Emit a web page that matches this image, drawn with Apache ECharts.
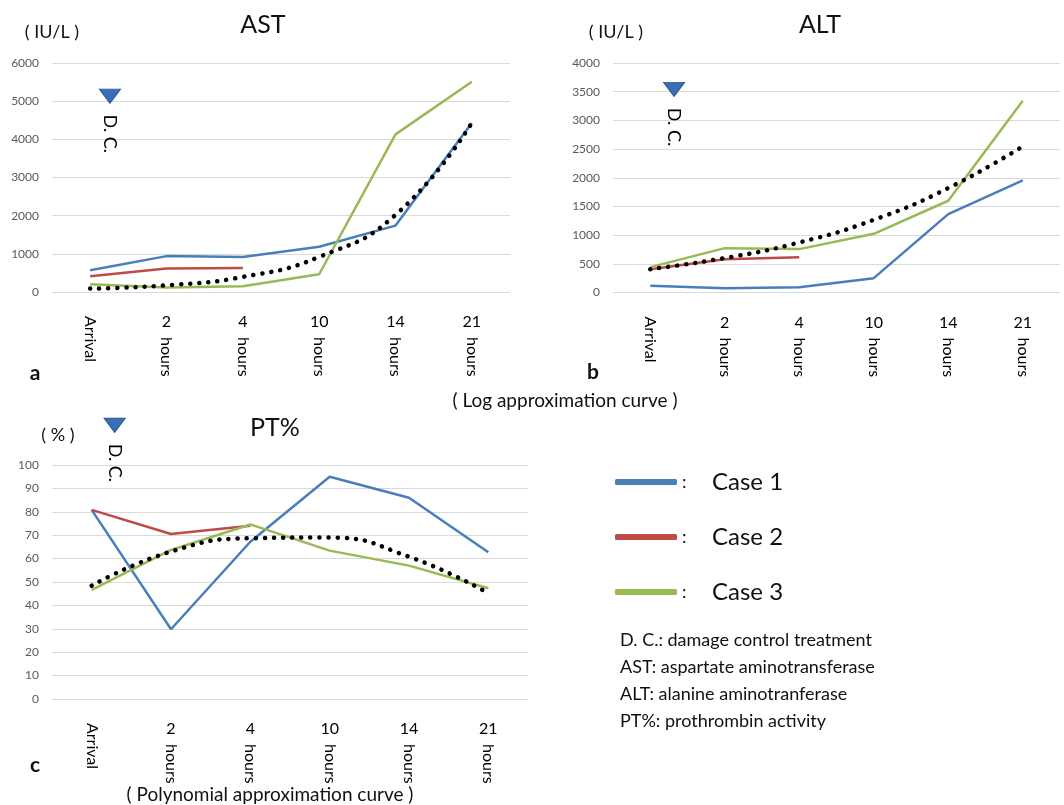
<!DOCTYPE html>
<html>
<head>
<meta charset="utf-8">
<script src="https://cdn.jsdelivr.net/npm/echarts@6/dist/echarts.min.js"></script>
<style>
html,body{margin:0;padding:0;background:#fff;}
#chart{width:1064px;height:805px;}
</style>
</head>
<body>
<div id="chart"></div>
<script>
// ---- data ----
const categories = ['Arrival', '2 hours', '4 hours', '10 hours', '14 hours', '21 hours'];

const astCase1 = [570, 940, 920, 1185, 1740, 4430];
const astCase2 = [410, 615, 632];
const astCase3 = [200, 115, 150, 465, 4130, 5510];
const astTrend = [90, 175, 395, 920, 2020, 4430];

const altCase1 = [116, 76, 93, 250, 1366, 1953];
const altCase2 = [407, 581, 616];
const altCase3 = [442, 773, 756, 1023, 1599, 3343];
const altTrend = [407, 600, 872, 1267, 1820, 2547];

const ptCase1 = [80.8, 29.8, 67.2, 95, 86, 62.7];
const ptCase2 = [80.8, 70.5, 74];
const ptCase3 = [46.6, 63.7, 74.6, 63.4, 57, 47.3];
const ptTrend = [48.4, 63, 68.7, 69, 60.8, 45.2];

// D.C. (damage control) marker: fractional category position and value
const dcIndex = [0.26, 0.32, 0.29];
const dcValue = [5130, 3540, 117];

const yMax = [6000, 4000, 100];
const yInterval = [1000, 500, 10];
const panelTitles = ['AST', 'ALT', 'PT%'];
const seriesNames = ['Case 1', 'Case 2', 'Case 3'];
const notes = [
  'D. C.: damage control treatment',
  'AST: aspartate aminotransferase',
  'ALT: alanine aminotranferase',
  'PT%: prothrombin activity'
];

// ---- styling ----
const FONT = 'Lato';
const colors = ['#4a7ebb', '#be4b48', '#98b954'];
const panelData = [
  [astCase1, astCase2, astCase3, astTrend],
  [altCase1, altCase2, altCase3, altTrend],
  [ptCase1, ptCase2, ptCase3, ptTrend]
];

const grids = [
  {left: 52, top: 63, width: 458, height: 229, outerBoundsMode: 'none'},
  {left: 613, top: 63, width: 447, height: 229.5, outerBoundsMode: 'none'},
  {left: 52, top: 465, width: 476, height: 234, outerBoundsMode: 'none'}
];

const labelBase = {interval: 0, fontSize: 16, color: '#000', fontFamily: FONT};
function catAxes(g) {
  const base = {type: 'category', gridIndex: g, data: categories, position: 'bottom', boundaryGap: true,
    axisLine: {show: false}, axisTick: {show: false}, splitLine: {show: false}};
  return [
    Object.assign({}, base, {axisLabel: Object.assign({}, labelBase, {rotate: -90, margin: 24,
      formatter: (v, i) => i === 0 ? v : ''})}),
    Object.assign({}, base, {axisLabel: Object.assign({}, labelBase, {rotate: -90, margin: 45,
      formatter: (v, i) => i === 0 ? '' : v.split(' ')[1]})}),
    Object.assign({}, base, {axisLabel: Object.assign({}, labelBase, {rotate: 0, margin: 22,
      formatter: (v, i) => i === 0 ? '' : v.split(' ')[0]})}),
    {type: 'value', gridIndex: g, min: -0.5, max: 5.5, show: false, splitLine: {show: false}}
  ];
}

const xAxes = [], yAxes = [], series = [];
for (let g = 0; g < 3; g++) {
  xAxes.push(...catAxes(g));
  yAxes.push({
    type: 'value', gridIndex: g, min: 0, max: yMax[g], interval: yInterval[g],
    axisLine: {show: false}, axisTick: {show: false},
    axisLabel: {color: '#595959', fontSize: 12, fontFamily: FONT, margin: 13, formatter: v => String(v)},
    splitLine: {lineStyle: {color: '#d9d9d9', width: 1}}
  });
  const d = panelData[g];
  for (let s = 0; s < 3; s++) {
    series.push({
      type: 'line', name: seriesNames[s], xAxisIndex: g * 4, yAxisIndex: g,
      data: d[s], symbol: 'none', silent: true,
      lineStyle: {color: colors[s], width: 2.5}, itemStyle: {color: colors[s]}
    });
  }
  series.push({
    type: 'line', name: 'trend', xAxisIndex: g * 4, yAxisIndex: g, data: d[3],
    smooth: true, symbol: 'none', silent: true,
    lineStyle: {color: '#000', width: 4.5, type: [0.1, 9], cap: 'round'}
  });
  series.push({
    type: 'scatter', name: 'D.C.', xAxisIndex: g * 4 + 3, yAxisIndex: g,
    data: [[dcIndex[g], dcValue[g]]], symbol: 'triangle', symbolRotate: 180, symbolSize: [21, 14],
    clip: false, silent: true,
    itemStyle: {color: '#3a6fb8', borderColor: '#2a5590', borderWidth: 1, opacity: 1},
    label: {show: true, formatter: 'D. C.', position: 'bottom', distance: 11, rotate: -90,
      align: 'left', verticalAlign: 'middle', fontSize: 18, color: '#000', fontFamily: FONT,
      textBorderWidth: 0, opacity: 1}
  });
}

function txt(x, y, text, size, extra) {
  return {type: 'text', x: x, y: y, silent: true,
    style: Object.assign({text: text, fontSize: size, fontFamily: FONT, fill: '#111',
      align: 'center', verticalAlign: 'middle'}, extra || {})};
}

const graphics = [
  txt(263, 25, panelTitles[0], 25),
  txt(820, 25, panelTitles[1], 25),
  txt(275, 428, panelTitles[2], 25),
  txt(52, 32, '( IU/L )', 18),
  txt(616, 32, '( IU/L )', 18),
  txt(58, 435, '( % )', 18),
  txt(35, 373, 'a', 21, {fontWeight: 'bold'}),
  txt(593, 372, 'b', 21, {fontWeight: 'bold'}),
  txt(35, 765, 'c', 21, {fontWeight: 'bold'}),
  txt(565, 401, '( Log approximation curve )', 19),
  txt(270, 795, '( Polynomial approximation curve )', 19),
  {type: 'text', x: 620, y: 627, silent: true,
    style: {text: notes.join('\n'), fontSize: 18, fontFamily: FONT, fill: '#111', lineHeight: 27,
      align: 'left', verticalAlign: 'top'}}
];

const chart = echarts.init(document.getElementById('chart'), null, {renderer: 'canvas'});
chart.setOption({
  animation: false,
  backgroundColor: '#fff',
  grid: grids,
  xAxis: xAxes,
  yAxis: yAxes,
  legend: {
    data: seriesNames, orient: 'vertical', left: 610, top: 464,
    itemWidth: 62, itemHeight: 6, itemGap: 29, icon: 'roundRect', selectedMode: false,
    formatter: n => '{c|:}{t|' + n + '}',
    textStyle: {fontFamily: FONT, fontSize: 24, color: '#111', lineHeight: 26,
      rich: {
        c: {fontSize: 18, width: 30, fontFamily: FONT, color: '#111', align: 'left'},
        t: {fontSize: 24, fontFamily: FONT, color: '#111'}
      }}
  },
  series: series,
  graphic: graphics
});
</script>
</body>
</html>
